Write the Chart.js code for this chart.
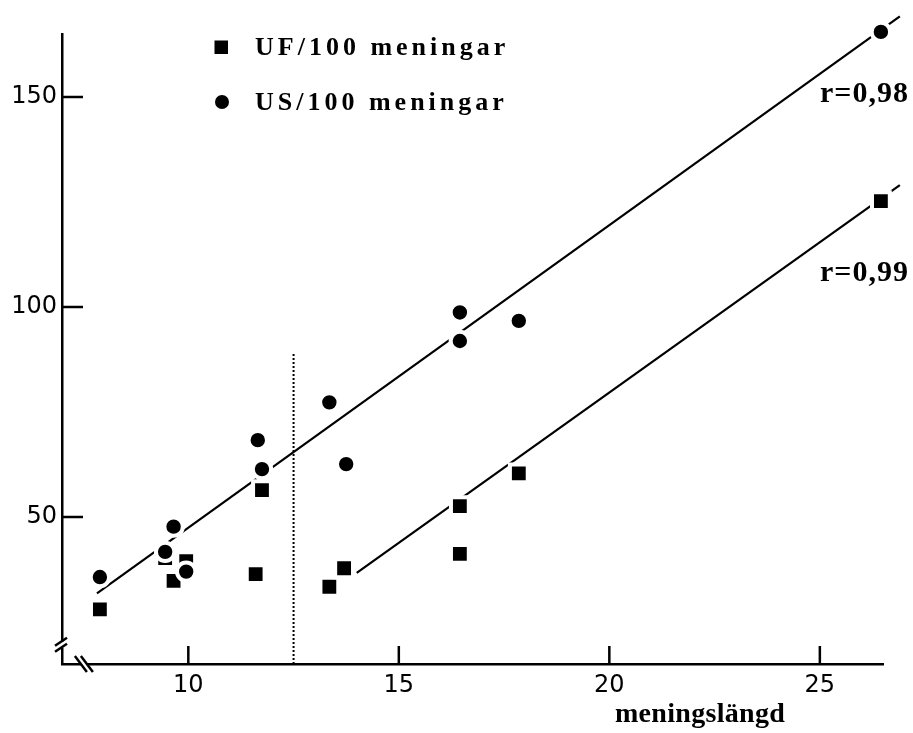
<!DOCTYPE html>
<html>
<head>
<meta charset="utf-8">
<title>meningslängd</title>
<script src="https://cdn.jsdelivr.net/npm/chart.js@4.4.1/dist/chart.umd.min.js"></script>
<style>
    html, body { margin: 0; padding: 0; background: #fff; }
    canvas { display: block; }
</style>
</head>
<body>
<canvas id="chart" width="913" height="733"></canvas>
<script>
// --- DATA ---
// Tick labels on both axes.
const xTicks = [10, 15, 20, 25];
const yTicks = [50, 100, 150];

// UF per 100 sentences (squares) against sentence length.
const ufLength = [7.9, 9.45, 9.65, 9.95, 11.6, 11.75, 13.35, 13.7, 16.45, 16.45, 17.85, 26.45];
const ufRate   = [28.0, 40.2, 34.8, 39.5, 36.4, 56.4, 33.4, 37.8, 52.6, 41.2, 60.4, 125.2];

// US per 100 sentences (circles) against sentence length.
const usLength = [7.9, 9.45, 9.65, 9.95, 11.65, 11.75, 13.35, 13.75, 16.45, 16.45, 17.85, 26.45];
const usRate   = [35.7, 41.7, 47.7, 37.0, 68.3, 61.4, 77.3, 62.6, 98.7, 91.9, 96.7, 165.5];

const usFitX = [7.83, 26.9];
const usFitY = [31.8, 169.2];
const ufFitX = [14.0, 26.9];
const ufFitY = [36.7, 129.0];

// Dotted split line.
const splitX = [12.5, 12.5];
const splitY = [15, 89];

const legendLabels = ['UF/100 meningar', 'US/100 meningar'];
const rLabels = ['r=0,98', 'r=0,99'];
const xTitle = 'meningslängd';

const toPoints = (xs, ys) => xs.map((x, i) => ({ x: x, y: ys[i] }));

// --- EXTRA DRAWING: inward ticks, axis breaks, legend and labels ---
const decor = {
    id: 'decor',
    afterDraw(chart) {
        const { ctx, scales: { x, y } } = chart;
        const line = (x1, y1, x2, y2) => {
            ctx.beginPath();
            ctx.moveTo(x1, y1);
            ctx.lineTo(x2, y2);
            ctx.stroke();
        };
        ctx.save();
        ctx.strokeStyle = '#000';
        ctx.lineWidth = 2.5;

        // tick marks point into the plot
        yTicks.forEach(v => {
            const py = y.getPixelForValue(v);
            line(x.left, py, x.left + 21, py);
        });
        xTicks.forEach(v => {
            const px = x.getPixelForValue(v);
            line(px, y.bottom, px, y.bottom - 18);
        });

        // break on the y axis
        const by = y.getPixelForValue(19.6);
        ctx.fillStyle = '#fff';
        ctx.fillRect(x.left - 3, by - 3, 6, 6);
        line(x.left - 7, by - 3 + 4, x.left + 5, by - 3 - 4);
        line(x.left - 7, by + 3 + 4, x.left + 5, by + 3 - 4);

        // break on the x axis
        const bx = x.getPixelForValue(7.52);
        ctx.fillRect(bx - 3, y.bottom - 3, 6, 6);
        line(bx - 3 - 6, y.bottom - 8, bx - 3 + 6, y.bottom + 8);
        line(bx + 3 - 6, y.bottom - 8, bx + 3 + 6, y.bottom + 8);

        // legend
        ctx.fillStyle = '#000';
        ctx.fillRect(214.5, 40.5, 13.5, 13.5);
        ctx.beginPath();
        ctx.arc(222, 102, 7, 0, Math.PI * 2);
        ctx.fill();
        ctx.font = 'bold 26px "Liberation Serif"';
        ctx.letterSpacing = '4px';
        ctx.textBaseline = 'middle';
        ctx.textAlign = 'left';
        ctx.fillText(legendLabels[0], 255, 48);
        ctx.fillText(legendLabels[1], 255, 103);

        // correlation labels
        ctx.font = 'bold 30px "Liberation Serif"';
        ctx.letterSpacing = '1px';
        ctx.fillText(rLabels[0], 820, 94);
        ctx.fillText(rLabels[1], 820, 273);

        // axis title
        ctx.font = 'bold 28px "Liberation Serif"';
        ctx.letterSpacing = '0.3px';
        ctx.textBaseline = 'alphabetic';
        ctx.fillText(xTitle, 615, 722);
        ctx.restore();
    }
};

// --- CHART ---
const ctx = document.getElementById('chart').getContext('2d');

new Chart(ctx, {
    type: 'scatter',
    data: {
        datasets: [
            {
                label: 'US fit',
                data: toPoints(usFitX, usFitY),
                showLine: true,
                borderColor: '#000',
                borderWidth: 2.2,
                pointRadius: 0,
                clip: false,
                order: 3
            },
            {
                label: 'UF fit',
                data: toPoints(ufFitX, ufFitY),
                showLine: true,
                borderColor: '#000',
                borderWidth: 2.2,
                pointRadius: 0,
                clip: false,
                order: 3
            },
            {
                label: 'split',
                data: toPoints(splitX, splitY),
                showLine: true,
                borderColor: '#000',
                borderWidth: 2,
                borderDash: [2, 2],
                pointRadius: 0,
                clip: false,
                order: 3
            },
            {
                label: legendLabels[0],
                data: toPoints(ufLength, ufRate),
                pointStyle: 'rect',
                pointRadius: 12.6,
                backgroundColor: '#000',
                borderColor: '#fff',
                borderWidth: 4,
                clip: false,
                order: 2
            },
            {
                label: legendLabels[1],
                data: toPoints(usLength, usRate),
                pointStyle: 'circle',
                pointRadius: 9.2,
                backgroundColor: '#000',
                borderColor: '#fff',
                borderWidth: 4,
                clip: false,
                order: 1
            }
        ]
    },
    options: {
        responsive: false,
        devicePixelRatio: 1,
        animation: false,
        events: [],
        layout: { padding: { left: 0, right: 30, top: 34, bottom: 0 } },
        plugins: {
            legend: { display: false },
            tooltip: { enabled: false }
        },
        scales: {
            x: {
                type: 'linear',
                min: 7,
                max: 26.5,
                grid: { display: false, drawTicks: false },
                border: { display: true, color: '#000', width: 2.5 },
                ticks: {
                    color: '#000',
                    font: { family: 'DejaVu Sans', size: 24 },
                    padding: 7,
                    maxRotation: 0,
                    autoSkip: false
                },
                afterBuildTicks: s => { s.ticks = xTicks.map(v => ({ value: v })); },
                afterFit: s => { s.height = 69; }
            },
            y: {
                type: 'linear',
                min: 15,
                max: 165,
                grid: { display: false, drawTicks: false },
                border: { display: true, color: '#000', width: 2.5 },
                ticks: {
                    color: '#000',
                    font: { family: 'DejaVu Sans', size: 24 },
                    padding: 5,
                    autoSkip: false
                },
                afterBuildTicks: s => { s.ticks = yTicks.map(v => ({ value: v })); },
                afterFit: s => { s.width = 62; }
            }
        }
    },
    plugins: [decor]
});
</script>
</body>
</html>
